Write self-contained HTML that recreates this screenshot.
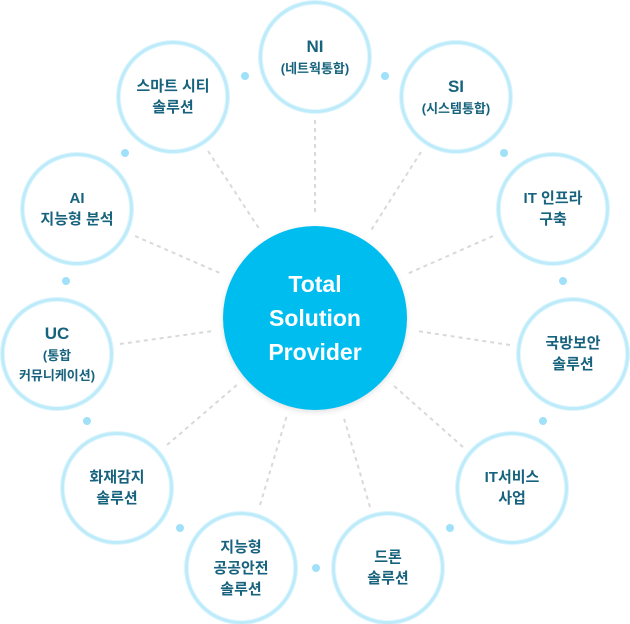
<!DOCTYPE html>
<html><head><meta charset="utf-8"><style>
html,body{margin:0;padding:0;background:#fff;}
body{width:630px;height:624px;position:relative;overflow:hidden;font-family:"Liberation Sans","Noto Sans CJK KR",sans-serif;}
.c{position:absolute;width:106px;height:106px;border-radius:50%;border:3px solid #bdebfa;box-shadow:0 0 0 1px #dcf5fd,inset 0 0 0 1px #e6f8fe;background:#fff;display:flex;flex-direction:column;align-items:center;justify-content:center;color:#17637d;font-weight:bold;font-size:15px;line-height:21px;text-align:center;box-sizing:content-box;}
.c .b{font-size:17px;line-height:24px;}
.c .s{font-size:13px;line-height:20px;}
.m{position:absolute;left:223px;top:226px;width:184px;height:184px;border-radius:50%;background:#00bdf0;color:#fff;font-weight:bold;font-size:23px;line-height:34px;display:flex;align-items:center;justify-content:center;text-align:center;box-shadow:0 2px 6px rgba(0,0,0,0.12);}
svg{position:absolute;left:0;top:0;}
</style></head><body>
<svg width="630" height="624">
<g stroke="#d9d9d9" stroke-width="2" stroke-dasharray="4,4" fill="none">
<line x1="315" y1="120" x2="315" y2="215"/>
<line x1="421" y1="152" x2="370" y2="232"/>
<line x1="493" y1="236" x2="407" y2="274"/>
<line x1="510" y1="345" x2="417" y2="331"/>
<line x1="463" y1="447" x2="393" y2="385"/>
<line x1="370" y1="507" x2="343" y2="415"/>
<line x1="260" y1="505" x2="287" y2="415"/>
<line x1="167" y1="445" x2="238" y2="384"/>
<line x1="120" y1="344" x2="213" y2="331"/>
<line x1="135" y1="236" x2="222" y2="274"/>
<line x1="208" y1="151" x2="260" y2="230"/>
</g>
<g fill="#9fe1f8">
<circle cx="245" cy="76" r="4"/><circle cx="385" cy="76" r="4"/>
<circle cx="125" cy="153" r="4"/><circle cx="504" cy="153" r="4"/>
<circle cx="66" cy="281" r="4"/><circle cx="563" cy="281" r="4"/>
<circle cx="87" cy="421" r="4"/><circle cx="543" cy="421" r="4"/>
<circle cx="180" cy="528" r="4"/><circle cx="450" cy="528" r="4"/>
<circle cx="316" cy="568" r="4"/>
</g>
</svg>
<div class="m">Total<br>Solution<br>Provider</div>
<div class="c" style="left:259px;top:1px"><div class="b">NI</div><div class="s">(네트웍통합)</div></div>
<div class="c" style="left:400px;top:41px"><div class="b">SI</div><div class="s">(시스템통합)</div></div>
<div class="c" style="left:497px;top:153px">IT 인프라<br>구축</div>
<div class="c" style="left:517px;top:298px">국방보안<br>솔루션</div>
<div class="c" style="left:456px;top:432px">IT서비스<br>사업</div>
<div class="c" style="left:332px;top:512px">드론<br>솔루션</div>
<div class="c" style="left:185px;top:512px">지능형<br>공공안전<br>솔루션</div>
<div class="c" style="left:61px;top:432px">화재감지<br>솔루션</div>
<div class="c" style="left:1px;top:298px"><div class="b">UC</div><div class="s">(통합<br>커뮤니케이션)</div></div>
<div class="c" style="left:21px;top:153px"><div>AI</div><div>지능형 분석</div></div>
<div class="c" style="left:117px;top:41px">스마트 시티<br>솔루션</div>
</body></html>
